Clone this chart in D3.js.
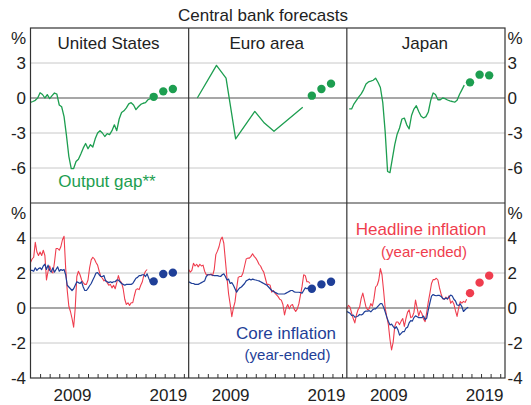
<!DOCTYPE html>
<html>
<head>
<meta charset="utf-8">
<script src="https://cdn.jsdelivr.net/npm/d3@7"></script>
<style>
body { margin: 0; background: #fff; }
text { font-family: "Liberation Sans", Arial, sans-serif; }
</style>
</head>
<body>
<div id="draw"></div>
<script>
const panels = ['United States', 'Euro area', 'Japan'];
const yearLabels = [2009, 2019];
const gapTicks = [3, 0, -3, -6];
const inflTicks = [4, 2, 0, -2, -4];

// output gaps, quarterly (US from 2005 Q1, Japan from 2005 Q2)
const usGap = [-0.37, -0.3, -0.2, 0.0, 0.45, 0.3, 0.0, 0.29, -0.05, 0.2, 0.43, 0.34, -0.6, -0.75, -1.6, -3.2,
    -5.0, -6.05, -6.05, -5.45, -5.25, -4.8, -4.3, -3.9, -4.35, -4.0, -4.2, -3.5, -3.0, -2.8, -3.0, -3.3,
    -3.06, -3.14, -2.8, -2.3, -2.8, -1.8, -1.25, -1.1, -0.85, -0.5, -0.4, -0.6, -1.0, -0.75, -0.55, -0.45,
    -0.4, -0.15, -0.05];
const jpGap = [-0.94, -0.94, -0.5, -0.2, 0.1, 0.35, 0.72, 1.2, 1.38, 1.44, 1.52, 1.7, 1.35, 0.9, -0.4, -2.9,
    -6.3, -6.4, -5.2, -4.0, -3.1, -2.57, -1.8, -1.72, -2.3, -2.65, -1.5, -0.95, -0.66, -1.15, -1.57, -1.71,
    -1.6, -1.2, -0.2, 0.43, 0.3, -0.15, -0.15, 0.0, -0.05, -0.17, -0.25, -0.3, -0.36, -0.2, 0.3, 0.7, 1.1];
// euro area output gap, annual points
const euGapYears = [2005.9, 2007.9, 2008.9, 2009.9, 2011.9, 2012.9, 2013.9, 2016.9];
const euGap = [0, 2.8, 1.7, -3.5, -1.15, -2.15, -2.85, -0.8];

// forecasts
const forecastYears = [2017.85, 2018.85, 2019.85];
const usGapF = [0.1, 0.57, 0.77];
const euGapF = [0.2, 0.77, 1.23];
const jpGapF = [1.34, 2.0, 1.94];
const usCoreF = [1.52, 1.94, 2.02];
const euCoreF = [1.1, 1.35, 1.5];
const jpHeadF = [0.85, 1.45, 1.85];

// inflation, every two months from Jan 2005
const usHead = [2.6, 2.8, 2.9, 3.75, 3.2, 3.0, 3.2, 3.0, 3.3, 3.0, 1.6, 2.1, 2.4, 2.1, 2.0, 2.6, 3.4, 3.4, 3.3, 3.5,
    3.9, 4.1, 2.3, 1.0, 0.1, -0.2, -0.6, -1.1, 0.0, 1.8, 2.1, 1.9, 1.6, 1.45, 1.35, 1.35, 1.6, 2.3, 2.75, 2.9,
    2.8, 2.6, 2.45, 2.1, 1.8, 1.7, 1.55, 1.6, 1.45, 1.3, 1.35, 1.15, 1.3, 1.1, 1.45, 1.85, 1.55, 1.45, 1.1, 0.5,
    0.2, 0.3, 0.15, 0.3, 0.3, 0.7, 1.05, 1.1, 1.05, 1.3, 1.5, 1.9, 2.1, 2.2];
const usCore = [2.15, 2.15, 2.1, 2.3, 2.15, 2.25, 2.3, 2.2, 2.4, 2.5, 2.2, 2.45, 2.15, 2.05, 2.3, 2.05, 2.2, 2.35, 2.1, 2.2,
    2.15, 2.2, 1.9, 1.3, 1.2, 1.1, 1.0, 1.1, 1.3, 1.5, 1.45, 1.4, 1.5, 1.2, 1.0, 1.0, 1.12, 1.27, 1.4, 1.6,
    1.78, 2.0, 2.02, 1.9, 1.8, 1.8, 1.85, 1.55, 1.5, 1.45, 1.5, 1.45, 1.5, 1.5, 1.6, 1.6, 1.5, 1.4, 1.35, 1.3,
    1.35, 1.35, 1.35, 1.35, 1.4, 1.55, 1.7, 1.75, 1.85, 1.85, 1.9, 1.9, 1.8, 1.95, 1.7, 1.5];
const euHead = [2.2, 2.05, 2.15, 2.55, 2.4, 2.5, 2.35, 2.5, 2.4, 2.45, 2.1, 1.9, 1.9, 1.9, 1.95, 1.85, 2.2, 3.05, 3.25, 3.5,
    3.9, 4.05, 3.7, 2.7, 1.7, 0.8, 0.2, -0.5, 0.0, 0.35, 1.1, 1.75, 1.8, 1.8, 2.0, 2.4, 2.8, 2.85, 2.85, 2.95,
    3.1, 2.95, 2.85, 2.7, 2.5, 2.4, 2.2, 2.05, 1.7, 1.35, 1.35, 1.3, 0.9, 1.0, 0.85, 0.75, 0.65, 0.5, 0.45, 0.2,
    -0.4, 0.0, 0.2, -0.05, 0.15, 0.2, -0.05, -0.2, -0.05, 0.25, 0.75, 1.25, 1.9, 1.85, 1.5, 1.5, 1.4];
const euCore = [1.5, 1.45, 1.4, 1.4, 1.35, 1.35, 1.35, 1.4, 1.45, 1.5, 1.55, 1.8, 1.9, 1.9, 1.9, 1.87, 1.85, 1.85, 1.85, 1.82,
    1.8, 1.9, 1.95, 1.8, 1.6, 1.65, 1.4, 1.45, 1.3, 1.1, 0.9, 1.05, 1.15, 1.2, 1.3, 1.4, 1.55, 1.6, 1.65, 1.6,
    1.65, 1.62, 1.6, 1.57, 1.55, 1.5, 1.45, 1.4, 1.35, 1.3, 1.2, 1.1, 1.0, 0.95, 0.9, 0.85, 0.8, 0.8, 0.8, 0.8,
    0.8, 0.85, 0.9, 0.95, 1.0, 1.0, 0.92, 0.9, 0.9, 0.9, 0.88, 0.85, 1.0, 1.15, 1.1, 1.15];
const jpHead = [-0.05, 0.15, 0.05, -0.3, -0.6, -0.85, -0.4, -0.1, 0.05, 0.55, 0.85, 0.45, 0.05, -0.1, -0.05, 0.25, 0.1, 0.55, 1.2, 1.3,
    1.6, 2.25, 1.9, 1.0, 0.0, -0.5, -0.95, -1.8, -2.4, -1.95, -1.05, -0.8, -0.8, -0.95, -0.75, -0.6, -1.05, -0.6, -0.25, -0.1,
    -0.55, -0.5, -0.25, 0.45, 0.0, -0.45, -0.15, -0.33, -0.63, -0.78, -0.25, 0.35, 0.85, 1.4, 1.62, 1.62, 1.7, 1.6, 1.15, 0.8,
    0.53, 0.5, 0.62, 0.5, 0.7, 0.27, 0.4, 0.23, -0.15, -0.48, 0.0, 0.37, 0.28, 0.38, 0.32, 0.5];
const jpCore = [-0.2, -0.25, -0.3, -0.43, -0.4, -0.52, -0.5, -0.46, -0.37, -0.4, -0.35, -0.22, -0.17, -0.18, -0.15, -0.22, -0.12, -0.05, -0.05, 0.05,
    0.15, 0.25, 0.25, 0.05, -0.22, -0.52, -0.77, -0.97, -0.92, -1.05, -1.17, -1.07, -1.25, -1.55, -1.45, -1.35, -1.35, -1.15, -1.1, -0.85,
    -0.72, -0.75, -0.55, -0.45, -0.5, -0.55, -0.55, -0.55, -0.46, -0.67, -0.58, -0.1, 0.3, 0.68, 0.77, 0.72, 0.7, 0.72, 0.72, 0.66,
    0.55, 0.5, 0.57, 0.52, 0.63, 0.74, 0.69, 0.5, 0.4, 0.17, 0.15, 0.23, 0.08, -0.2, -0.1, -0.02, 0.04];

let width = 531,
    height = 405;
let left = 30.5,
    right = 505,
    pw = (right - left) / 3,
    top1 = 28,
    mid = 203,
    bot = 378;

const green = '#1d9e50', red = '#ef3d4e', blue = '#1f3f98';

let svg = d3.select('#draw')
    .append('svg')
    .attr('width', width)
    .attr('height', height);

let yGap = d3.scaleLinear().domain([-9, 6]).range([mid, top1]),
    yInf = d3.scaleLinear().domain([-4, 6]).range([bot, mid]);
let xs = panels.map((p, i) => d3.scaleLinear().domain([2005, 2021.5]).range([left + i * pw, left + (i + 1) * pw]));

// grid lines
let grid = svg.append('g');
gapTicks.forEach(v => {
    grid.append('line').attr('x1', left).attr('x2', right).attr('y1', yGap(v)).attr('y2', yGap(v))
        .attr('stroke', v == 0 ? '#505050' : '#c8c8c8').attr('stroke-width', v == 0 ? 1.2 : 1);
});
inflTicks.filter(v => v > -4).forEach(v => {
    grid.append('line').attr('x1', left).attr('x2', right).attr('y1', yInf(v)).attr('y2', yInf(v))
        .attr('stroke', v == 0 ? '#505050' : '#c8c8c8').attr('stroke-width', v == 0 ? 1.2 : 1);
});

let quarterly = (vals, start) => vals.map((v, i) => [start + i * 0.25, v]);
let bimonthly = vals => vals.map((v, i) => [2005 + i / 6, v]);

function drawLine(x, y, data, color, w) {
    svg.append('path')
        .datum(data)
        .attr('fill', 'none')
        .attr('stroke', color)
        .attr('stroke-width', w)
        .attr('stroke-linejoin', 'round')
        .attr('d', d3.line().x(d => x(d[0])).y(d => y(d[1])));
}

function drawDots(x, y, vals, color) {
    svg.append('g').selectAll('circle')
        .data(vals)
        .enter()
        .append('circle')
        .attr('cx', (d, i) => x(forecastYears[i]))
        .attr('cy', d => y(d))
        .attr('r', 4.2)
        .attr('fill', color);
}

// output gaps
drawLine(xs[0], yGap, quarterly(usGap, 2005), green, 1.3);
drawLine(xs[1], yGap, euGapYears.map((yr, i) => [yr, euGap[i]]), green, 1.3);
drawLine(xs[2], yGap, quarterly(jpGap, 2005.25), green, 1.3);
drawDots(xs[0], yGap, usGapF, green);
drawDots(xs[1], yGap, euGapF, green);
drawDots(xs[2], yGap, jpGapF, green);

// inflation
drawLine(xs[0], yInf, bimonthly(usHead), red, 1.1);
drawLine(xs[0], yInf, bimonthly(usCore), blue, 1.2);
drawLine(xs[1], yInf, bimonthly(euHead), red, 1.1);
drawLine(xs[1], yInf, bimonthly(euCore), blue, 1.2);
drawLine(xs[2], yInf, bimonthly(jpHead), red, 1.1);
drawLine(xs[2], yInf, bimonthly(jpCore), blue, 1.2);
drawDots(xs[0], yInf, usCoreF, blue);
drawDots(xs[1], yInf, euCoreF, blue);
drawDots(xs[2], yInf, jpHeadF, red);

// frame
let frame = svg.append('g').attr('stroke', '#333').attr('stroke-width', 1.2).attr('fill', 'none');
frame.append('rect').attr('x', left).attr('y', top1).attr('width', right - left).attr('height', bot - top1);
frame.append('line').attr('x1', left).attr('x2', right).attr('y1', mid).attr('y2', mid);
[1, 2].forEach(i => {
    frame.append('line').attr('x1', xs[i].range()[0]).attr('x2', xs[i].range()[0]).attr('y1', top1).attr('y2', bot);
});

// x ticks and year labels
xs.forEach((x, i) => {
    let ax = svg.append('g')
        .attr('transform', 'translate(0,' + bot + ')')
        .call(d3.axisBottom(x).tickValues(d3.range(2006, 2022)).tickSize(-4).tickFormat(''));
    ax.select('.domain').remove();
    ax.selectAll('line').attr('stroke', '#333');
    yearLabels.forEach(yr => {
        svg.append('text')
            .attr('x', x(yr + 0.38))
            .attr('y', 401)
            .attr('text-anchor', 'middle')
            .attr('font-size', 17)
            .attr('fill', '#222')
            .text(yr);
    });
    svg.append('text')
        .attr('x', (x.range()[0] + x.range()[1]) / 2 - 1)
        .attr('y', 49)
        .attr('text-anchor', 'middle')
        .attr('font-size', 17)
        .attr('fill', '#222')
        .text(panels[i]);
});

// y axes both sides
function yAxes(scale, ticks) {
    let l = svg.append('g').attr('transform', 'translate(' + left + ',0)')
        .call(d3.axisLeft(scale).tickValues(ticks).tickSize(0).tickPadding(4.5).tickFormat(d => String(d)));
    let r = svg.append('g').attr('transform', 'translate(' + right + ',0)')
        .call(d3.axisRight(scale).tickValues(ticks).tickSize(0).tickPadding(2.5).tickFormat(d => String(d)));
    [l, r].forEach(a => {
        a.select('.domain').remove();
        a.selectAll('text').attr('font-size', 17).attr('fill', '#222')
            .style('font-family', '"Liberation Sans", Arial, sans-serif');
    });
}
yAxes(yGap, gapTicks);
yAxes(yInf, inflTicks);

[top1, mid].forEach(t => {
    svg.append('text').attr('x', 26).attr('y', t + 15.5).attr('text-anchor', 'end')
        .attr('font-size', 17).attr('fill', '#222').text('%');
    svg.append('text').attr('x', 507.5).attr('y', t + 15.5)
        .attr('font-size', 17).attr('fill', '#222').text('%');
});

// titles and series labels
svg.append('text').attr('x', 263).attr('y', 20.5).attr('text-anchor', 'middle')
    .attr('font-size', 17).attr('fill', '#222').text('Central bank forecasts');
svg.append('text').attr('x', 107).attr('y', 187).attr('text-anchor', 'middle')
    .attr('font-size', 17).attr('fill', green).text('Output gap**');
svg.append('text').attr('x', 421).attr('y', 235).attr('text-anchor', 'middle')
    .attr('font-size', 17).attr('fill', red).text('Headline inflation');
svg.append('text').attr('x', 424).attr('y', 257).attr('text-anchor', 'middle')
    .attr('font-size', 15).attr('fill', red).text('(year-ended)');
svg.append('text').attr('x', 286).attr('y', 339).attr('text-anchor', 'middle')
    .attr('font-size', 17).attr('fill', blue).text('Core inflation');
svg.append('text').attr('x', 287.5).attr('y', 360).attr('text-anchor', 'middle')
    .attr('font-size', 15).attr('fill', blue).text('(year-ended)');
</script>
</body>
</html>
